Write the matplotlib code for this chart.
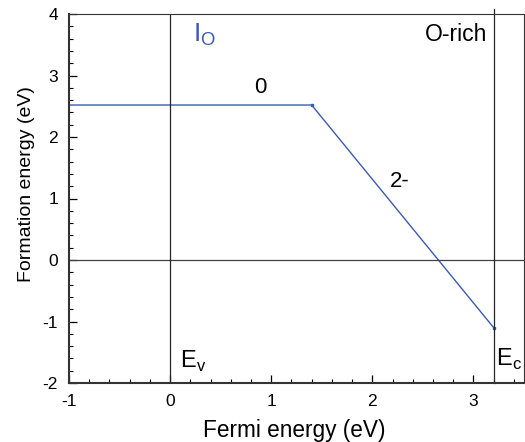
import matplotlib
matplotlib.use("Agg")
import matplotlib.pyplot as plt
from matplotlib.ticker import MultipleLocator

plt.rcParams["font.family"] = ["Liberation Sans", "DejaVu Sans"]
plt.rcParams["axes.unicode_minus"] = False
plt.rcParams["mathtext.fontset"] = "custom"
plt.rcParams["mathtext.rm"] = "Liberation Sans"

# formation energy of I_O vs Fermi level (O-rich)
fermi = [-1.0, 1.40, 3.2]
eform = [2.52, 2.52, -1.1]
vbm = 0.0
cbm = 3.2
blue = "#3b5bab"

fig = plt.figure(figsize=(5.25, 4.42), dpi=100)
ax = fig.add_axes([69 / 525, 1 - 383 / 442, 455 / 525, 369 / 442])

ax.plot(fermi, eform, color=blue, lw=1.0, marker="s", ms=2, markevery=[1, 2])
ax.axhline(0, color="0.25", lw=0.9)
ax.axvline(vbm, color="0.15", lw=0.9)
ax.plot([cbm, cbm], [-2, 4.08], color="0.15", lw=0.9, clip_on=False)

ax.set_xlim(-1, 3.5)
ax.set_ylim(-2, 4)
ax.xaxis.set_major_locator(MultipleLocator(1))
ax.xaxis.set_minor_locator(MultipleLocator(0.2))
ax.yaxis.set_major_locator(MultipleLocator(1))
ax.yaxis.set_minor_locator(MultipleLocator(0.2))
ax.tick_params(which="both", direction="in", top=False, right=False, labelsize=12.5, pad=8)
ax.tick_params(which="major", length=6, width=0.9)
ax.tick_params(which="minor", length=3, width=0.8)
for s in ax.spines.values():
    s.set_linewidth(0.8)
    s.set_color("0.2")
ax.spines["left"].set_linewidth(1.5)
ax.spines["bottom"].set_linewidth(1.5)

ax.set_xlabel("Fermi energy (eV)", fontsize=16.3)
ax.set_ylabel("Formation energy (eV)", fontsize=14)
ax.xaxis.set_label_coords(0.4945, -0.098)
ax.yaxis.set_label_coords(-0.075, 0.539)

ax.text(0.23, 3.56, r"I$_\mathrm{O}$", color=blue, fontsize=19, va="baseline")
ax.text(0.89, 2.80, "0", fontsize=16, ha="center", va="center")
ax.text(2.27, 1.27, "2-", fontsize=16, ha="center", va="center")
ax.text(3.14, 3.66, "O-rich", fontsize=16.5, ha="right", va="center")
ax.text(0.1, -1.76, r"E$_\mathrm{v}$", fontsize=17, va="baseline")
ax.text(3.22, -1.72, r"E$_\mathrm{c}$", fontsize=17, va="baseline")

fig.savefig("out.png", dpi=100)
